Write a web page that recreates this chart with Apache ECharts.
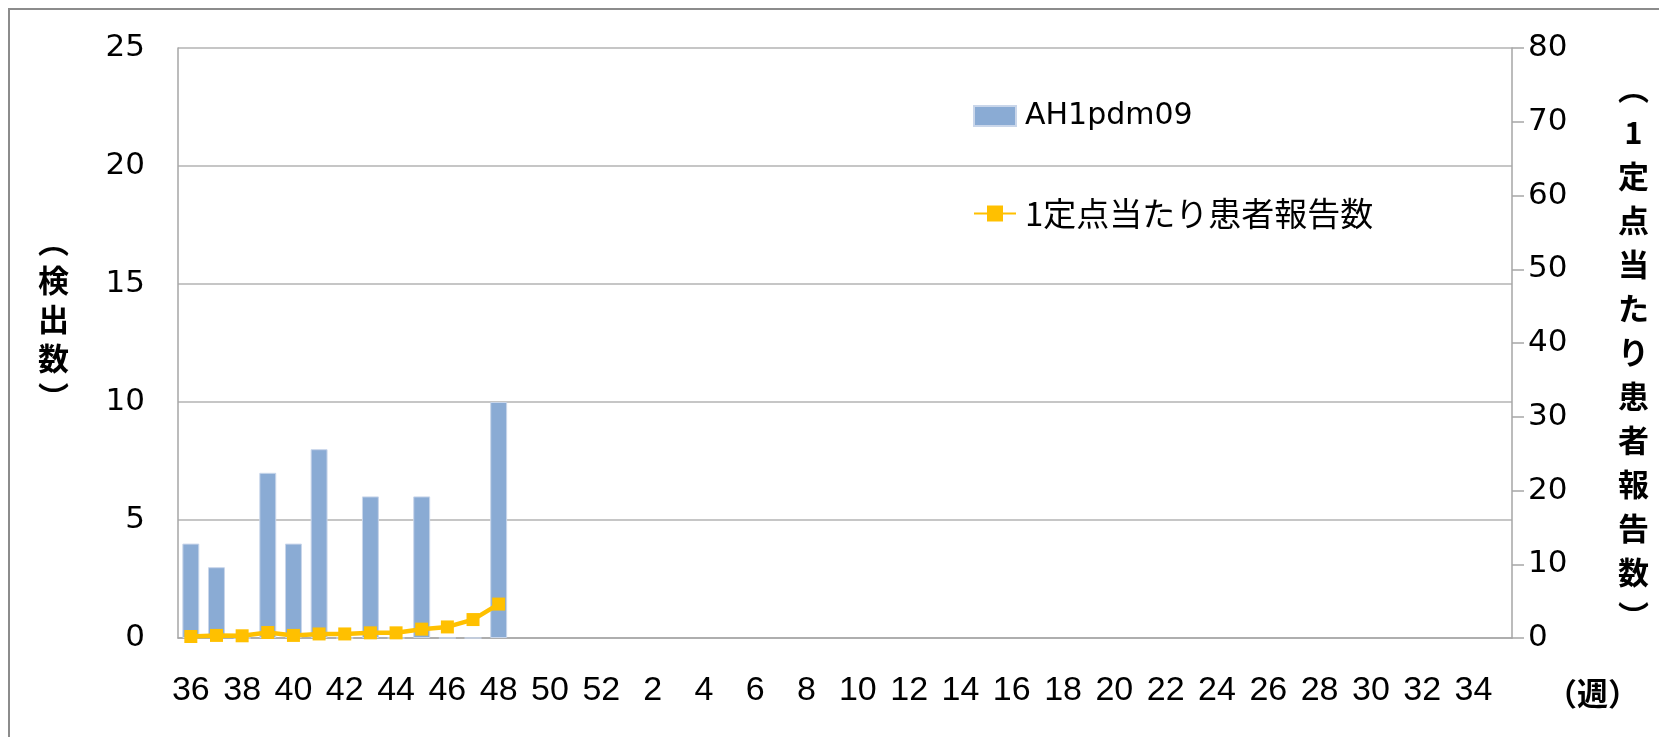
<!DOCTYPE html>
<html>
<head>
<meta charset="utf-8">
<script src="https://cdn.jsdelivr.net/npm/echarts@6/dist/echarts.min.js"></script>
<style>
  html, body { margin: 0; padding: 0; background: #fff; overflow: hidden; }
  #frame {
    position: absolute; left: 8px; top: 8px; width: 1700px; height: 800px;
    border: 2px solid #8c8c8c; box-sizing: border-box;
  }
  #chart { position: absolute; left: 0; top: 0; width: 1659px; height: 737px; }
</style>
</head>
<body>
<div id="frame"></div>
<div id="chart"></div>
<script>
// 週番号（36週〜翌年35週）
const weeks = [
  "36", "37", "38", "39", "40", "41", "42", "43", "44", "45", "46", "47", "48",
  "49", "50", "51", "52", "1", "2", "3", "4", "5", "6", "7", "8", "9", "10",
  "11", "12", "13", "14", "15", "16", "17", "18", "19", "20", "21", "22", "23",
  "24", "25", "26", "27", "28", "29", "30", "31", "32", "33", "34", "35"
];
// AH1pdm09 検出数
const detections = [4, 3, 0, 7, 4, 8, 0, 6, 0, 6, 0, 0, 10];
// 1定点当たり患者報告数
const perSite = [0.2, 0.35, 0.3, 0.75, 0.35, 0.55, 0.55, 0.7, 0.7, 1.2, 1.5, 2.5, 4.6];

const leftTicks = { min: 0, max: 25, interval: 5 };
const rightTicks = { min: 0, max: 80, interval: 10 };

const jpFont = '"Noto Sans CJK JP", sans-serif';
const numFont = '"DejaVu Sans", sans-serif';

let myChart = echarts.init(document.getElementById("chart"));
myChart.setOption({
  animation: false,
  grid: { left: 178, right: 147, top: 48, bottom: 99 },
  legend: {
    orient: "vertical",
    left: 968,
    top: 96,
    itemWidth: 42,
    itemHeight: 20,
    itemGap: 66,
    textStyle: { fontFamily: numFont + ", " + jpFont, fontSize: 30, color: "#000", padding: [0, 0, 0, 4] },
    data: [
      { name: "AH1pdm09", icon: "rect" },
      { name: "1定点当たり患者報告数", textStyle: { fontSize: 33, fontFamily: jpFont } }
    ]
  },
  xAxis: {
    type: "category",
    data: weeks,
    axisTick: { show: false },
    axisLine: { lineStyle: { color: "#a6a6a6", width: 1.5 } },
    axisLabel: {
      interval: 1,
      margin: 36,
      color: "#000",
      fontSize: 34,
      fontFamily: '"Liberation Sans Narrow", "Liberation Sans", sans-serif'
    }
  },
  yAxis: [
    {
      type: "value",
      min: leftTicks.min,
      max: leftTicks.max,
      interval: leftTicks.interval,
      axisLine: { show: true, lineStyle: { color: "#a6a6a6", width: 1.5 } },
      axisTick: { show: false },
      axisLabel: { margin: 33, color: "#000", fontSize: 31, fontFamily: numFont },
      splitLine: { lineStyle: { color: "#b3b3b3", width: 1.5 } }
    },
    {
      type: "value",
      min: rightTicks.min,
      max: rightTicks.max,
      interval: rightTicks.interval,
      axisLine: { show: true, lineStyle: { color: "#a6a6a6", width: 1.5 } },
      axisTick: { show: true, length: 12, lineStyle: { color: "#a6a6a6", width: 1.5 } },
      axisLabel: { margin: 16, color: "#000", fontSize: 31, fontFamily: numFont },
      splitLine: { show: false }
    }
  ],
  series: [
    {
      name: "AH1pdm09",
      type: "bar",
      yAxisIndex: 0,
      data: detections,
      barWidth: "66%",
      itemStyle: { color: "#8aabd4", borderColor: "#c9d6ea", borderWidth: 1 }
    },
    {
      name: "1定点当たり患者報告数",
      type: "line",
      yAxisIndex: 1,
      data: perSite,
      symbol: "rect",
      symbolSize: 13,
      lineStyle: { color: "#ffc000", width: 4.5 },
      itemStyle: { color: "#ffc000" }
    }
  ],
  graphic: [
    {
      type: "text",
      left: 38,
      top: 222,
      style: {
        text: "︵\n検\n出\n数\n︶",
        font: "bold 31px " + jpFont,
        lineHeight: 39,
        textAlign: "center",
        fill: "#000"
      }
    },
    {
      type: "text",
      left: 1618,
      top: 66,
      style: {
        text: "︵\n1\n定\n点\n当\nた\nり\n患\n者\n報\n告\n数\n︶",
        font: "bold 31px " + jpFont,
        lineHeight: 44,
        textAlign: "center",
        fill: "#000"
      }
    },
    {
      type: "text",
      left: 1546,
      top: 678,
      style: { text: "（週）", font: "bold 31px " + jpFont, fill: "#000" }
    }
  ]
});
</script>
</body>
</html>
